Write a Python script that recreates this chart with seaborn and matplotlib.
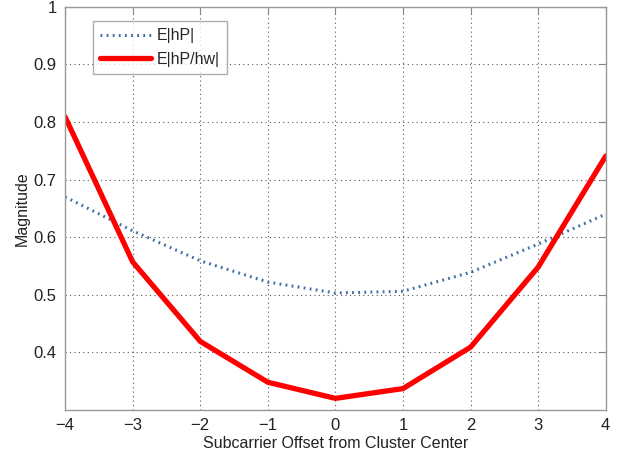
import matplotlib
matplotlib.use("Agg")
import matplotlib.pyplot as plt
import seaborn as sns
import pandas as pd

offsets = [-4, -3, -2, -1, 0, 1, 2, 3, 4]
e_hp = [0.670, 0.611, 0.559, 0.522, 0.503, 0.506, 0.539, 0.588, 0.640]
e_hp_hw = [0.809, 0.557, 0.419, 0.348, 0.320, 0.337, 0.409, 0.548, 0.741]
labels = ["E|hP|", "E|hP/hw|"]

sns.set_style("white")
plt.rcParams['font.family'] = ['Liberation Sans', 'DejaVu Sans']

fig = plt.figure(figsize=(6.2, 4.59), dpi=100)
ax = fig.add_axes([0.105, 0.107, 0.872, 0.878])

df1 = pd.DataFrame({"x": offsets, "y": e_hp})
df2 = pd.DataFrame({"x": offsets, "y": e_hp_hw})
sns.lineplot(data=df1, x="x", y="y", ax=ax, color="#3f6fa8", lw=2.2,
             linestyle=(0, (0.6, 1.4)), label=labels[0])
sns.lineplot(data=df2, x="x", y="y", ax=ax, color="#ff0000", lw=3.8,
             label=labels[1])

ax.set_xlim(-4, 4)
ax.set_ylim(0.3, 1.0)
ax.set_xticks(offsets)
ax.set_xticklabels(["\u22124", "\u22123", "\u22122", "\u22121", "0", "1", "2", "3", "4"])
ax.set_yticks([0.4, 0.5, 0.6, 0.7, 0.8, 0.9, 1.0])
ax.set_yticklabels(["0.4", "0.5", "0.6", "0.7", "0.8", "0.9", "1"])
ax.grid(True, linestyle=(0, (1, 3)), color="#555555", lw=0.8)
ax.tick_params(direction="in", length=5, top=True, right=True, labelsize=12,
               color="#888888", labelcolor="#222222", pad=6)
for s in ax.spines.values():
    s.set_color("#999999")
    s.set_linewidth(1.0)
ax.set_xlabel("Subcarrier Offset from Cluster Center", fontsize=11.5, color="#222222", labelpad=2)
ax.set_ylabel("Magnitude", fontsize=11.5, color="#222222", labelpad=3)

leg = ax.legend(loc="upper left", bbox_to_anchor=(0.036, 0.985), fontsize=11.5,
                frameon=True, fancybox=False, handlelength=3.2, borderpad=0.45,
                labelspacing=0.55, handletextpad=0.35)
leg.get_frame().set_edgecolor("#999999")
leg.get_frame().set_linewidth(1.0)

fig.savefig("out.png", dpi=100)
